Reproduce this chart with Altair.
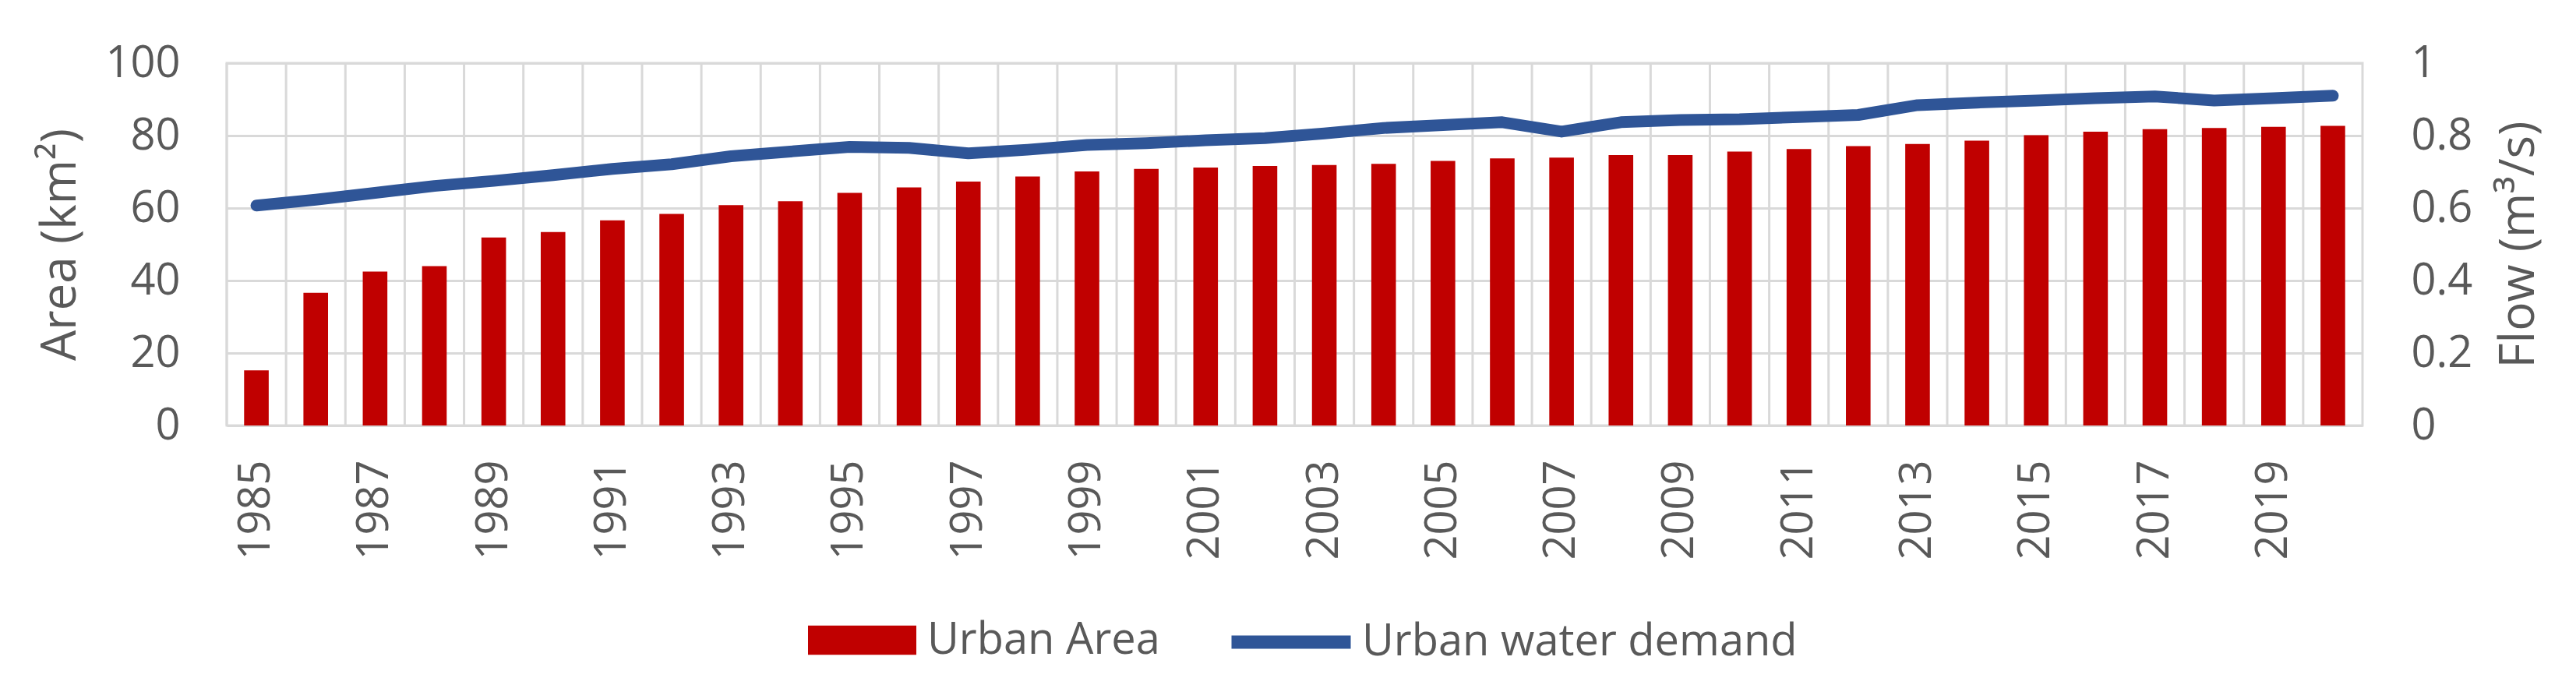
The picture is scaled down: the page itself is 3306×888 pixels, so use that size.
import altair as alt
import pandas as pd

years = list(range(1985, 2021))
urban_area = [15.2, 36.6, 42.5, 44.0, 51.9, 53.4, 56.6, 58.4, 60.8, 61.9,
              64.2, 65.7, 67.3, 68.7, 70.1, 70.8, 71.2, 71.6, 71.9, 72.2,
              73.0, 73.7, 73.9, 74.6, 74.6, 75.6, 76.3, 77.1, 77.7, 78.6,
              80.1, 81.1, 81.8, 82.1, 82.4, 82.7]
water_demand = [0.607, 0.623, 0.642, 0.661, 0.675, 0.691, 0.708, 0.721, 0.743, 0.756,
                0.769, 0.766, 0.751, 0.761, 0.774, 0.779, 0.787, 0.793, 0.806, 0.821,
                0.829, 0.837, 0.811, 0.837, 0.843, 0.845, 0.851, 0.857, 0.884, 0.891,
                0.897, 0.903, 0.908, 0.897, 0.903, 0.910]
bar_name = "Urban Area"
line_name = "Urban water demand"
bar_color = "#C00000"
line_color = "#2F5597"
area_ticks = [0, 20, 40, 60, 80, 100]
flow_ticks = [0, 0.2, 0.4, 0.6, 0.8, 1]

df = pd.DataFrame({"year": years, "area": urban_area, "flow": water_demand})

FONT = "Open Sans"
TXT = "#595959"
GRID = "#D9D9D9"

x_enc = alt.X("year:O", scale=alt.Scale(paddingInner=0, paddingOuter=0),
              axis=alt.Axis(title=None, labelAngle=270, labelExpr="datum.value % 2 == 1 ? datum.label : ''",
                            labelOverlap=False, ticks=False, tickSize=0, domain=False, grid=False,
                            labelPadding=44, labelFont=FONT, labelFontSize=56, labelColor=TXT))

bar_legend = alt.Legend(
    orient="none", legendX=746, legendY=671, title=None,
    labelFont=FONT, labelFontSize=56, labelColor=TXT, labelOffset=14, labelLimit=0,
    symbolSize=19321, symbolType="M-1,-0.27H1V0.27H-1Z", symbolStrokeWidth=0,
    symbolOpacity=1,
)
line_legend = alt.Legend(
    orient="none", legendX=1281, legendY=658, title=None,
    labelFont=FONT, labelFontSize=56, labelColor=TXT, labelOffset=6, labelLimit=0,
    symbolSize=23409, symbolType="M-1,0H1", symbolStrokeWidth=17,
    symbolOpacity=1,
)

base = alt.Chart(df)

vgrid = base.mark_rule(color=GRID, strokeWidth=3).encode(
    x=alt.X("year:O", bandPosition=0, scale=alt.Scale(paddingInner=0, paddingOuter=0))
)

bars = base.transform_calculate(series=f"'{bar_name}'").mark_bar(
    width=alt.RelativeBandSize(0.415)
).encode(
    x=x_enc,
    y=alt.Y("area:Q", scale=alt.Scale(domain=[0, 100], nice=False),
            axis=alt.Axis(title="Area (km²)", values=area_ticks, format="d", orient="left",
                          grid=True, gridColor=GRID, gridWidth=3, domain=False, ticks=False, tickSize=0,
                          labelPadding=60, labelFont=FONT, labelFontSize=56, labelColor=TXT,
                          titleFont=FONT, titleFontSize=62, titleFontWeight="normal", titleColor=TXT,
                          titlePadding=25)),
    fill=alt.Fill("series:N", scale=alt.Scale(domain=[bar_name], range=[bar_color]), legend=bar_legend),
)

line = base.transform_calculate(series=f"'{line_name}'").mark_line(
    strokeWidth=15, strokeCap="round", strokeJoin="round"
).encode(
    x=alt.X("year:O"),
    y=alt.Y("flow:Q", scale=alt.Scale(domain=[0, 1], nice=False),
            axis=alt.Axis(title="Flow (m³/s)", values=flow_ticks, format="~g", orient="right",
                          grid=False, domain=False, ticks=False, tickSize=0,
                          labelPadding=62, labelFont=FONT, labelFontSize=56, labelColor=TXT,
                          titleFont=FONT, titleFontSize=62, titleFontWeight="normal", titleColor=TXT,
                          titleAngle=270, titleBaseline="top", titlePadding=30)),
    stroke=alt.Stroke("series:N", scale=alt.Scale(domain=[line_name], range=[line_color]), legend=line_legend),
)

chart = alt.layer(vgrid, bars, line).resolve_scale(y="independent").properties(
    width=2741, height=465,
    autosize=alt.AutoSizeParams(type="none"),
    padding={"left": 283, "top": 73, "right": 266, "bottom": 320},
    background="white",
).configure_view(stroke=GRID, strokeWidth=3)

chart.save("out.html", embed_options={"renderer": "svg", "actions": False})
